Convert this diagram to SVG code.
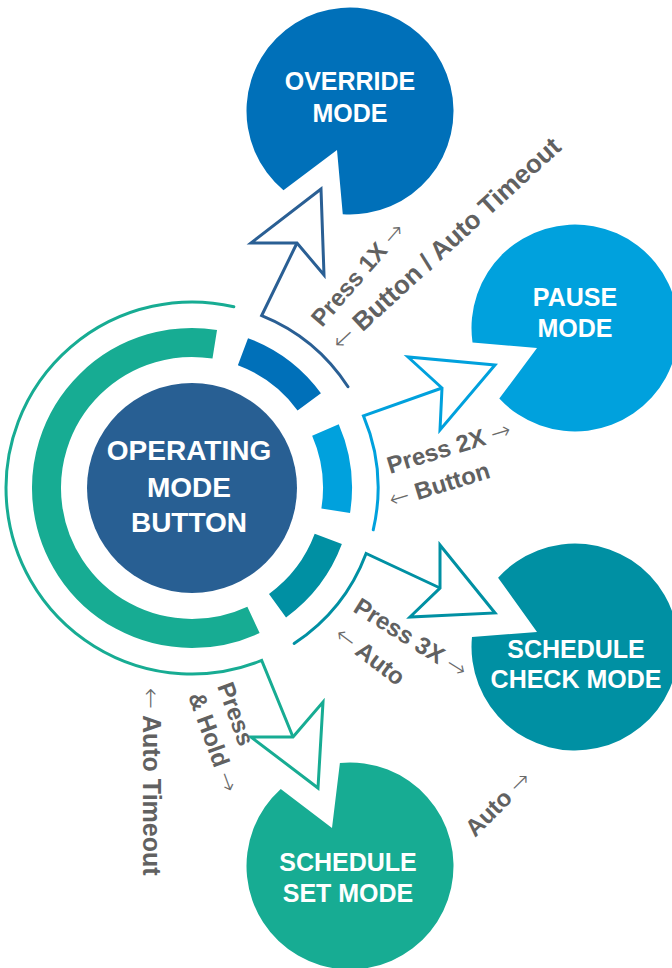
<svg xmlns="http://www.w3.org/2000/svg" width="672" height="968" viewBox="0 0 672 968">
<style>
.t{font-family:"Liberation Sans",Arial,sans-serif;font-weight:700;fill:#fff;text-anchor:middle}
.lb{font-family:"Liberation Sans",Arial,sans-serif;font-weight:700;fill:#616161;font-size:24px}
.ar{font-family:"DejaVu Sans",sans-serif;font-weight:200;fill:#6a6a6a}
.seg{fill:none;stroke-width:29}
.con{fill:none;stroke-width:3;stroke-linecap:round;stroke-linejoin:miter}
.head{fill:#fff;stroke-width:3;stroke-linejoin:miter}
</style>
<rect width="672" height="968" fill="#fff"/>
<g id="node-center">
<path class="seg" stroke="#17ac93" d="M 253.49 619.87 A 145.5 145.5 0 1 1 214.76 344.29"/>
<path class="seg" stroke="#0070b9" d="M 242.95 351.71 A 145.5 145.5 0 0 1 309.26 401.86"/>
<path class="seg" stroke="#00a1dd" d="M 325.44 429.99 A 145.5 145.5 0 0 1 335.71 510.76"/>
<path class="seg" stroke="#0090a3" d="M 328.29 538.95 A 145.5 145.5 0 0 1 277.52 605.71"/>
<circle cx="192" cy="488" r="105" fill="#285f93"/>
<text class="t" font-size="28" x="189" y="460">OPERATING</text>
<text class="t" font-size="28" x="189" y="497">MODE</text>
<text class="t" font-size="28" x="189" y="532">BUTTON</text>
</g>
<g id="node-override">
<path fill="#0070b9" d="M 342.78 214.25 A 103.5 103.5 0 1 0 283.47 190.28 L 337 150 Z"/>
<text class="t" font-size="25" x="350" y="90">OVERRIDE</text>
<text class="t" font-size="25" x="350" y="122">MODE</text>
</g>
<g id="node-pause">
<path fill="#00a1dd" d="M 472.5 342.4 A 103.5 103.5 0 1 1 499.3 398.59 L 537 348 Z"/>
<text class="t" font-size="25" x="575" y="306">PAUSE</text>
<text class="t" font-size="25" x="575" y="337">MODE</text>
</g>
<g id="node-check">
<path fill="#0090a3" d="M 498.09 577.75 A 103.5 103.5 0 1 1 471.98 637.08 L 537 632 Z"/>
<text class="t" font-size="25" x="576" y="658">SCHEDULE</text>
<text class="t" font-size="25" x="576" y="688">CHECK MODE</text>
</g>
<g id="node-set">
<path fill="#17ac93" d="M 339.9 763 A 103.5 103.5 0 1 1 280.75 789.09 L 332 828 Z"/>
<text class="t" font-size="25" x="348" y="871">SCHEDULE</text>
<text class="t" font-size="25" x="348" y="902">SET MODE</text>
</g>
<g id="connectors">
<path class="con" stroke="#2a5f94" d="M 348 386.7 A 186 186 0 0 0 261.68 315.54 L 297 243"/>
<path class="head" stroke="#2a5f94" d="M 297 243 L 251 243 L 321 189 L 324 275 Z"/>
<path class="con" stroke="#00a1dd" d="M 373.24 529.84 A 186 186 0 0 0 363.47 415.92 L 442 388"/>
<path class="head" stroke="#00a1dd" d="M 442 388 L 408 357 L 495 365 L 440 430 Z"/>
<path class="con" stroke="#0090a3" d="M 294.11 643.46 A 186 186 0 0 0 366.11 553.44 L 440 588"/>
<path class="head" stroke="#0090a3" d="M 440 588 L 440 545 L 495 613 L 410 617 Z"/>
<path class="con" stroke="#17ac93" d="M 233.84 306.76 A 186 186 0 1 0 261.68 660.46 L 293 737"/>
<path class="head" stroke="#17ac93" d="M 293 737 L 251 737 L 318 788 L 323 702 Z"/>
</g>
<g id="labels">
<text class="lb" transform="translate(322,328) rotate(-49)">Press 1X <tspan class="ar">→</tspan></text>
<text class="lb" style="font-size:26px" transform="translate(341,352) rotate(-42.5)"><tspan class="ar">←</tspan> Button / Auto Timeout</text>
<text class="lb" transform="translate(390,474) rotate(-17)">Press 2X <tspan class="ar">→</tspan></text>
<text class="lb" transform="translate(392,508) rotate(-17)"><tspan class="ar">←</tspan> Button</text>
<text class="lb" transform="translate(352,611) rotate(32)">Press 3X <tspan class="ar">→</tspan></text>
<text class="lb" transform="translate(333,638) rotate(37)"><tspan class="ar">←</tspan> Auto</text>
<text class="lb" transform="translate(217,686) rotate(70)">Press</text>
<text class="lb" transform="translate(188,696) rotate(70)">&amp; Hold <tspan class="ar">→</tspan></text>
<text class="lb" style="font-size:25px" transform="translate(143,688) rotate(90)"><tspan class="ar">←</tspan> Auto Timeout</text>
<text class="lb" transform="translate(475,838) rotate(-45)">Auto <tspan class="ar">→</tspan></text>
</g>
</svg>
